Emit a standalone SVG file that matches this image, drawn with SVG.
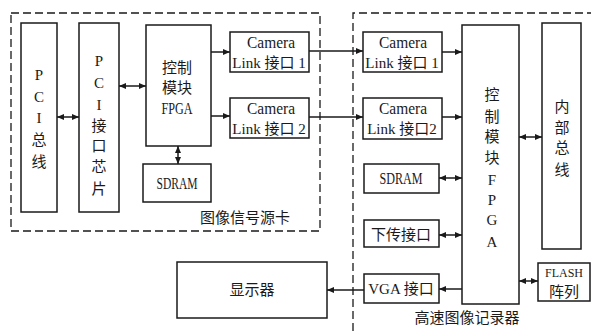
<svg xmlns="http://www.w3.org/2000/svg" width="591" height="331" viewBox="0 0 591 331">
<style>
.b{fill:#fff;stroke:#1a1a1a;stroke-width:1.5}
.d{fill:none;stroke:#1a1a1a;stroke-width:1.3;stroke-dasharray:8 4}
.c line{stroke:#1a1a1a;stroke-width:1.5}
text{font-family:"Liberation Serif","Noto Sans CJK SC",serif;font-size:15px;fill:#1a1a1a;text-anchor:middle;dominant-baseline:central}
.l{font-size:17px}
</style>
<defs>
<marker id="a" markerUnits="userSpaceOnUse" markerWidth="8" markerHeight="8" refX="7" refY="4" orient="auto-start-reverse">
<path d="M0,1 L7,4 L0,7 Z" fill="#1a1a1a"/>
</marker>
</defs>
<rect class="d" x="11" y="13" width="309" height="218"/>
<path class="d" d="M353,331 V13 H591"/>
<g id="pci-bus"><rect class="b" x="21" y="23" width="36" height="189"/>
<text x="39" y="75">P</text><text x="39" y="97">C</text><text x="39" y="118">I</text><text x="39" y="140">总</text><text x="39" y="162">线</text></g>
<g id="pci-chip"><rect class="b" x="79" y="23" width="40" height="189"/>
<text x="99" y="61">P</text><text x="99" y="83">C</text><text x="99" y="105">I</text><text x="99" y="126">接</text><text x="99" y="146">口</text><text x="99" y="167">芯</text><text x="99" y="189">片</text></g>
<g id="fpga-left"><rect class="b" x="146" y="25" width="65" height="121"/>
<text x="177" y="68">控制</text><text x="177" y="88">模块</text><text class="l" x="177" y="108" textLength="31" lengthAdjust="spacingAndGlyphs">FPGA</text></g>
<g id="sdram-left"><rect class="b" x="143" y="164" width="68" height="38"/>
<text class="l" x="177" y="183" textLength="41" lengthAdjust="spacingAndGlyphs">SDRAM</text></g>
<g id="cl1-left"><rect class="b" x="230" y="32" width="79" height="40"/>
<text class="l" x="271" y="42" textLength="48" lengthAdjust="spacingAndGlyphs">Camera</text><text x="269" y="63">Link 接口 1</text></g>
<g id="cl2-left"><rect class="b" x="230" y="98" width="79" height="40"/>
<text class="l" x="271" y="108" textLength="48" lengthAdjust="spacingAndGlyphs">Camera</text><text x="269" y="129">Link 接口 2</text></g>
<text x="245" y="218">图像信号源卡</text>
<g id="cl1-right"><rect class="b" x="363" y="32" width="79" height="40"/>
<text class="l" x="403" y="42" textLength="48" lengthAdjust="spacingAndGlyphs">Camera</text><text x="402" y="63">Link 接口 1</text></g>
<g id="cl2-right"><rect class="b" x="363" y="98" width="79" height="41"/>
<text class="l" x="403" y="108" textLength="48" lengthAdjust="spacingAndGlyphs">Camera</text><text x="402" y="129">Link 接口2</text></g>
<g id="fpga-right"><rect class="b" x="462" y="25" width="57" height="279"/>
<text x="492" y="95">控</text><text x="492" y="117">制</text><text x="492" y="137">模</text><text x="492" y="158">块</text><text x="492" y="180">F</text><text x="492" y="200">P</text><text x="492" y="220">G</text><text x="492" y="242">A</text></g>
<g id="internal-bus"><rect class="b" x="542" y="23" width="39" height="226"/>
<text x="562" y="107">内</text><text x="562" y="128">部</text><text x="562" y="148">总</text><text x="562" y="170">线</text></g>
<g id="sdram-right"><rect class="b" x="364" y="164" width="75" height="29"/>
<text class="l" x="401" y="178" textLength="43" lengthAdjust="spacingAndGlyphs">SDRAM</text></g>
<g id="downlink"><rect class="b" x="364" y="220" width="75" height="27"/>
<text x="401" y="235">下传接口</text></g>
<g id="vga"><rect class="b" x="364" y="274" width="75" height="29"/>
<text x="401" y="289">VGA 接口</text></g>
<g id="flash"><rect class="b" x="538" y="263" width="52" height="38"/>
<text x="564" y="272" style="font-size:13px" textLength="38" lengthAdjust="spacingAndGlyphs">FLASH</text><text x="564" y="292">阵列</text></g>
<g id="display"><rect class="b" x="177" y="262" width="150" height="56"/>
<text x="252" y="290">显示器</text></g>
<text x="467" y="318">高速图像记录器</text>
<g class="c" id="connectors">
<line x1="57" y1="117" x2="79" y2="117" marker-start="url(#a)" marker-end="url(#a)"/>
<line x1="119" y1="86" x2="146" y2="86" marker-start="url(#a)" marker-end="url(#a)"/>
<line x1="178" y1="146" x2="178" y2="164" marker-start="url(#a)" marker-end="url(#a)"/>
<line x1="211" y1="52" x2="230" y2="52" marker-end="url(#a)"/>
<line x1="211" y1="116" x2="230" y2="116" marker-end="url(#a)"/>
<line x1="309" y1="51" x2="363" y2="51" marker-end="url(#a)"/>
<line x1="309" y1="117" x2="363" y2="117" marker-end="url(#a)"/>
<line x1="442" y1="52" x2="462" y2="52" marker-end="url(#a)"/>
<line x1="442" y1="117" x2="462" y2="117" marker-end="url(#a)"/>
<line x1="519" y1="137" x2="542" y2="137" marker-start="url(#a)" marker-end="url(#a)"/>
<line x1="439" y1="178" x2="462" y2="178" marker-start="url(#a)" marker-end="url(#a)"/>
<line x1="439" y1="235" x2="462" y2="235" marker-start="url(#a)" marker-end="url(#a)"/>
<line x1="462" y1="289" x2="439" y2="289" marker-end="url(#a)"/>
<line x1="364" y1="290" x2="327" y2="290" marker-end="url(#a)"/>
<line x1="519" y1="281" x2="538" y2="281" marker-start="url(#a)" marker-end="url(#a)"/>
</g>
</svg>
